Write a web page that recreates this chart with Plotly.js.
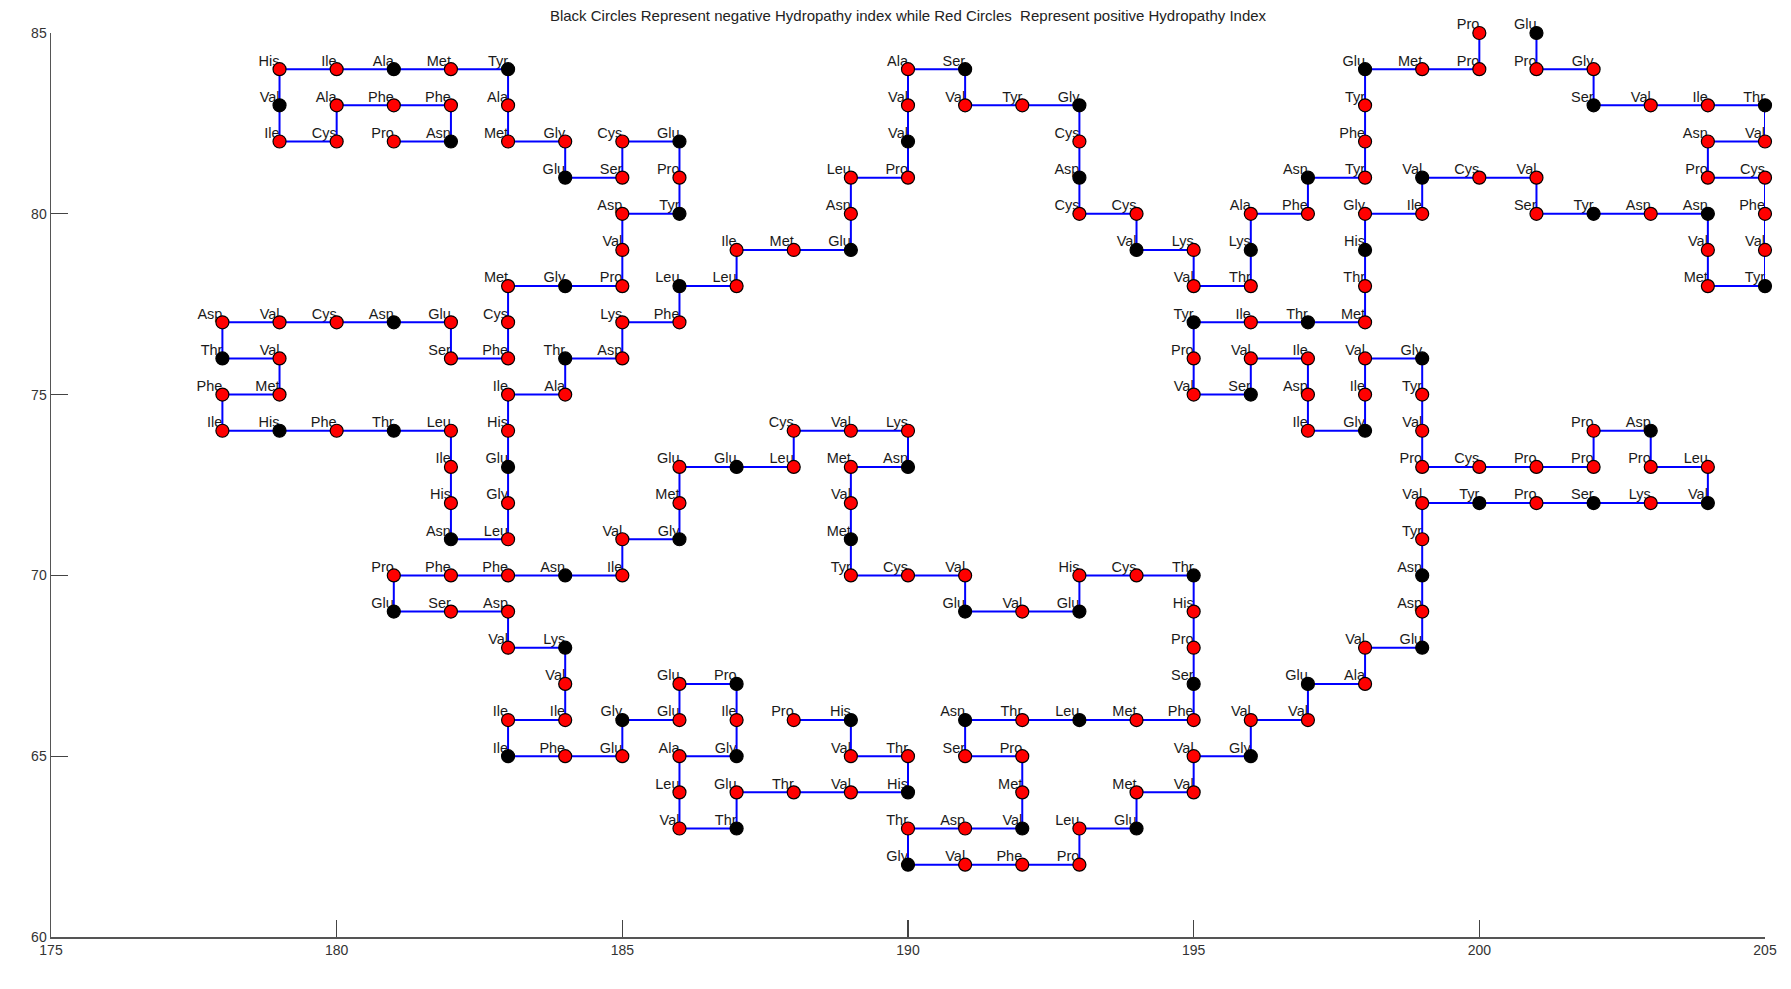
<!DOCTYPE html>
<html>
<head>
<meta charset="utf-8">
<script src="https://cdn.plot.ly/plotly-3.0.1.min.js"></script>
<style>html,body{margin:0;padding:0;background:#fff;overflow:hidden;}#chart{width:1791px;height:989px;}</style>
</head>
<body>
<div id="chart"></div>
<script>
// Chain A residues (lattice walk), positions and hydropathy sign (+1 red / -1 black)
const resA = ["Pro","Asn","Phe","Phe","Ala","Cys","Ile","Val","His","Ile",
"Ala","Met","Tyr","Ala","Met","Gly","Glu","Ser","Cys","Glu",
"Pro","Tyr","Asp","Val","Pro","Gly","Met","Cys","Phe","Ser",
"Glu","Asn","Cys","Val","Asp","Thr","Val","Met","Phe","Ile",
"His","Phe","Thr","Leu","Ile","His","Asn","Leu","Gly","Glu",
"His","Ile","Ala","Thr","Asp","Lys","Phe","Leu","Leu","Ile",
"Met","Glu","Asn","Leu","Pro","Val","Val","Ala","Ser","Val",
"Tyr","Gly","Cys","Asp","Cys","Cys","Val","Lys","Val","Thr",
"Lys","Ala","Phe","Asn","Tyr","Phe","Tyr","Glu","Met","Pro","Pro"];
const xA = [181,182,182,181,180,180,179,179,179,180,
181,182,183,183,183,184,184,185,185,186,
186,186,185,185,185,184,183,183,183,182,
182,181,180,179,178,178,179,179,178,178,
179,180,181,182,182,182,182,183,183,183,
183,183,184,184,185,185,186,186,187,187,
188,189,189,189,190,190,190,190,191,191,
192,193,193,193,193,194,194,195,195,196,
196,196,197,197,198,198,198,198,199,200,200];
const yA = [82,82,83,83,83,82,82,83,84,84,
84,84,84,83,82,82,81,81,82,82,
81,80,80,79,78,78,78,77,76,76,
77,77,77,77,77,76,76,75,75,74,
74,74,74,74,73,72,71,71,72,73,
74,75,75,76,76,77,77,78,78,79,
79,79,80,81,81,82,83,84,84,83,
83,83,82,81,80,80,79,79,78,78,
79,80,80,81,81,82,83,84,84,84,85];
const hydroA = [1,-1,1,1,1,1,1,-1,1,1,
-1,1,-1,1,1,1,-1,1,1,-1,
1,-1,1,1,1,-1,1,1,1,1,
1,-1,1,1,1,-1,1,1,1,1,
-1,1,-1,1,1,1,-1,1,1,-1,
1,1,1,-1,1,1,1,-1,1,1,
1,-1,1,1,1,-1,1,1,-1,1,
1,-1,1,-1,1,1,-1,1,1,1,
-1,1,1,-1,1,1,1,-1,1,1,1];

// Chain B
const resB = ["Glu","Pro","Gly","Ser","Val","Ile","Thr","Val","Asn","Pro",
"Cys","Phe","Val","Tyr","Met","Val","Asn","Asn","Tyr","Ser",
"Val","Cys","Val","Ile","Gly","His","Thr","Met","Thr","Ile",
"Tyr","Pro","Val","Ser","Val","Ile","Asp","Ile","Gly","Ile",
"Val","Gly","Tyr","Val","Pro","Cys","Pro","Pro","Pro","Asp",
"Pro","Leu","Val","Lys","Ser","Pro","Tyr","Val","Tyr","Asn",
"Asp","Glu","Val","Ala","Glu","Val","Val","Gly","Val","Val",
"Met","Glu","Leu","Pro","Phe","Val","Gly","Thr","Asp","Val",
"Met","Pro","Ser","Asn","Thr","Leu","Met","Phe","Ser","Pro",
"His","Thr","Cys","His","Glu","Val","Glu","Val","Cys","Tyr",
"Met","Val","Met","Asn","Lys","Val","Cys","Leu","Glu","Glu",
"Met","Gly","Val","Ile","Asn","Phe","Phe","Pro","Glu","Ser",
"Asp","Val","Lys","Val","Ile","Ile","Ile","Phe","Glu","Gly",
"Glu","Glu","Pro","Ile","Gly","Ala","Leu","Val","Thr","Glu",
"Thr","Val","His","Thr","Val","His","Pro"];
const xB = [201,201,202,202,203,204,205,205,204,204,
205,205,205,205,204,204,204,203,202,201,
201,200,199,199,198,198,198,198,197,196,
195,195,195,196,196,197,197,197,198,198,
198,199,199,199,199,200,201,202,202,203,
203,204,204,203,202,201,200,199,199,199,
199,199,198,198,197,197,196,196,195,195,
194,194,193,193,192,191,190,190,191,192,
192,192,191,191,192,193,194,195,195,195,
195,195,194,193,193,192,191,191,190,189,
189,189,189,190,190,189,188,188,187,186,
186,186,185,185,184,183,182,181,181,182,
183,183,184,184,184,183,183,184,185,185,
186,186,187,187,187,186,186,186,187,187,
188,189,190,190,189,189,188];
const yB = [85,84,84,83,83,83,83,82,82,81,
81,80,79,78,78,79,80,80,80,80,
81,81,81,80,80,79,78,77,77,77,
77,76,75,75,76,76,75,74,74,75,
76,76,75,74,73,73,73,73,74,74,
73,73,72,72,72,72,72,72,71,70,
69,68,68,67,67,66,66,65,65,64,
64,63,63,62,62,62,62,63,63,63,
64,65,65,66,66,66,66,66,67,68,
69,70,70,70,69,69,69,70,70,70,
71,72,73,73,74,74,74,73,73,73,
72,71,71,70,70,70,70,70,69,69,
69,68,68,67,66,66,65,65,65,66,
66,67,67,66,65,65,64,63,63,64,
64,64,64,65,65,66,66];
const hydroB = [-1,1,1,-1,1,1,-1,1,1,1,
1,1,1,-1,1,1,-1,1,-1,1,
1,1,-1,1,1,-1,1,1,-1,1,
-1,1,1,-1,1,1,1,1,-1,1,
1,-1,1,1,1,1,1,1,1,-1,
1,1,-1,1,-1,1,-1,1,1,-1,
1,-1,1,1,-1,1,1,-1,1,1,
1,-1,1,1,1,1,-1,1,1,-1,
1,1,1,-1,1,-1,1,1,-1,1,
1,-1,1,1,-1,1,-1,1,1,1,
-1,1,1,-1,1,1,1,1,-1,1,
1,-1,1,1,-1,1,1,1,-1,1,
1,1,-1,1,1,1,-1,1,1,-1,
1,1,-1,1,-1,1,1,1,-1,1,
1,1,-1,1,1,-1,1];

const xTicks = [175,180,185,190,195,200,205];
const yTicks = [60,65,70,75,80,85];
const titleText = "Black Circles Represent negative Hydropathy index while Red Circles  Represent positive Hydropathy Index";

const FONT = "Liberation Sans, Arial, Helvetica, sans-serif";
const colorOf = h => h > 0 ? "#ff0000" : "#000000";

const textTrace = {
  x: xA.concat(xB), y: yA.concat(yB), text: resA.concat(resB),
  mode: "text", type: "scatter", textposition: "top left",
  textfont: {family: FONT, size: 14.5, color: "#1a1a1a"},
  hoverinfo: "skip", showlegend: false, cliponaxis: false
};
function lineTrace(x, y) {
  return {x: x, y: y, mode: "lines", type: "scatter",
    line: {color: "#0000ff", width: 2}, hoverinfo: "skip", showlegend: false, cliponaxis: false};
}
function markerTrace(x, y, h) {
  return {x: x, y: y, mode: "markers", type: "scatter",
    marker: {symbol: "circle", size: 13, color: h.map(colorOf), line: {color: "#000000", width: 1.2}},
    hoverinfo: "skip", showlegend: false, cliponaxis: false};
}

const data = [textTrace, lineTrace(xA, yA), lineTrace(xB, yB),
  markerTrace(xA, yA, hydroA), markerTrace(xB, yB, hydroB)];

const axisCommon = {
  showgrid: false, zeroline: false, showline: true, linecolor: "#555555", linewidth: 1.5,
  ticks: "inside", ticklen: 17, tickwidth: 1.2, tickcolor: "#444444", mirror: false,
  tickfont: {family: FONT, size: 14, color: "#333333"}, tickmode: "array"
};

const layout = {
  width: 1791, height: 989,
  margin: {l: 51, r: 26, t: 33, b: 52, pad: 0},
  paper_bgcolor: "#ffffff", plot_bgcolor: "#ffffff",
  font: {family: FONT, color: "#222222"},
  showlegend: false, hovermode: false,
  title: {text: titleText, font: {family: FONT, size: 15, color: "#222222"},
    x: 0.5, xref: "paper", y: 1 - 15.5/989, yref: "container", yanchor: "middle"},
  xaxis: Object.assign({}, axisCommon, {range: [175, 205], tickvals: xTicks, ticktext: xTicks.map(String)}),
  yaxis: Object.assign({}, axisCommon, {range: [60, 85], tickvals: yTicks, ticktext: yTicks.map(String)})
};

Plotly.newPlot("chart", data, layout, {displayModeBar: false, staticPlot: true});
</script>
</body>
</html>
